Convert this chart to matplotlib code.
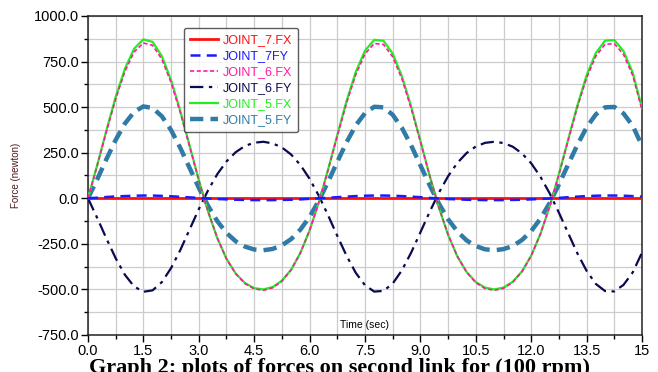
import matplotlib.pyplot as plt
from matplotlib.ticker import MultipleLocator

# time samples (sec) and forces (newton)
time_s = [0.0, 0.25, 0.5, 0.75, 1.0, 1.25, 1.5, 1.75, 2.0, 2.25, 2.5, 2.75,
          3.0, 3.25, 3.5, 3.75, 4.0, 4.25, 4.5, 4.75, 5.0, 5.25, 5.5, 5.75,
          6.0, 6.25, 6.5, 6.75, 7.0, 7.25, 7.5, 7.75, 8.0, 8.25, 8.5, 8.75,
          9.0, 9.25, 9.5, 9.75, 10.0, 10.25, 10.5, 10.75, 11.0, 11.25, 11.5, 11.75,
          12.0, 12.25, 12.5, 12.75, 13.0, 13.25, 13.5, 13.75, 14.0, 14.25, 14.5, 14.75,
          15.0]

joint7_fx = [0] * 61

joint7_fy = [0, 3, 7, 10, 12, 14, 15, 15, 13, 11, 8, 5,
             2, -1, -4, -6, -8, -9, -10, -10, -10, -9, -8, -6,
             -3, 0, 3, 6, 9, 12, 14, 15, 15, 14, 12, 9,
             6, 2, -1, -4, -6, -8, -9, -10, -10, -10, -9, -8,
             -6, -4, -1, 2, 6, 9, 12, 14, 15, 15, 14, 12,
             9]

joint6_fx = [0, 179, 366, 545, 696, 803, 852, 839, 763, 635, 470, 285,
             99, -72, -217, -332, -414, -468, -497, -505, -491, -455, -393, -300,
             -176, -22, 154, 341, 522, 678, 792, 849, 844, 776, 655, 493,
             310, 124, -50, -199, -318, -405, -463, -495, -505, -494, -461, -403,
             -315, -195, -44, 130, 317, 500, 660, 780, 845, 848, 789, 673,
             485]

joint6_fy = [0, -108, -221, -329, -420, -484, -513, -505, -460, -383, -284, -172,
             -60, 43, 132, 202, 253, 287, 305, 310, 301, 279, 240, 183,
             107, 14, -93, -206, -315, -409, -477, -512, -508, -468, -395, -298,
             -187, -75, 30, 121, 194, 248, 284, 304, 310, 303, 283, 246,
             192, 118, 27, -79, -191, -302, -398, -470, -509, -511, -475, -406,
             -298]

joint5_fx = [0, 182, 373, 556, 711, 821, 872, 858, 780, 648, 479, 290,
             101, -72, -218, -332, -413, -465, -493, -500, -487, -452, -392, -300,
             -177, -23, 157, 347, 533, 693, 810, 869, 864, 794, 669, 503,
             315, 125, -51, -201, -319, -404, -460, -490, -500, -490, -458, -401,
             -315, -196, -45, 132, 322, 509, 674, 797, 865, 868, 807, 688,
             495]

joint5_fy = [0, 104, 215, 320, 410, 474, 504, 495, 450, 374, 276, 167,
             58, -41, -125, -190, -236, -265, -281, -285, -278, -258, -224, -172,
             -102, -13, 90, 200, 307, 400, 467, 502, 499, 458, 386, 290,
             181, 72, -29, -115, -182, -231, -262, -280, -285, -279, -262, -229,
             -180, -112, -26, 76, 185, 293, 389, 460, 499, 501, 465, 397,
             288]

x_ticks = [0.0, 1.5, 3.0, 4.5, 6.0, 7.5, 9.0, 10.5, 12.0, 13.5, 15.0]
x_labels = ["0.0", "1.5", "3.0", "4.5", "6.0", "7.5", "9.0", "10.5", "12.0", "13.5", "15"]
y_ticks = [-750, -500, -250, 0, 250, 500, 750, 1000]

fig = plt.figure(figsize=(6.58, 3.72), dpi=100)
ax = fig.add_axes([0.1337, 0.0995, 0.842, 0.8575])

ax.plot(time_s, joint6_fy, color="#0a0a50", lw=1.6, dashes=(6, 2.5, 1.5, 2.5), label="JOINT_6.FY", zorder=3)
ax.plot(time_s, joint5_fy, color="#2f7ba6", lw=3.2, dashes=(3, 1.6), label="JOINT_5.FY", zorder=3)
ax.plot(time_s, joint5_fx, color="#22ee22", lw=1.6, label="JOINT_5.FX", zorder=4)
ax.plot(time_s, joint6_fx, color="#ff1aa0", lw=1.2, dashes=(2.5, 1.5), label="JOINT_6.FX", zorder=5)
ax.plot(time_s, joint7_fx, color="#ff1010", lw=2.0, label="JOINT_7.FX", zorder=5)
ax.plot(time_s, joint7_fy, color="#1a1aff", lw=1.8, dashes=(4, 2.5), label="JOINT_7FY", zorder=6)

ax.set_xlim(0, 15)
ax.set_ylim(-750, 1000)
ax.set_xticks(x_ticks)
ax.set_xticklabels(x_labels)
ax.set_yticks(y_ticks)
ax.set_yticklabels(["%.1f" % v for v in y_ticks])
ax.xaxis.set_minor_locator(MultipleLocator(0.75))
ax.yaxis.set_minor_locator(MultipleLocator(125))
ax.grid(True, which="both", color="#cccccc", lw=0.9)
ax.set_axisbelow(True)

font = "Liberation Sans"
for lab in ax.get_xticklabels() + ax.get_yticklabels():
    lab.set_fontfamily(font)
    lab.set_fontsize(10.5)
ax.tick_params(which="major", direction="out", length=5, width=1, pad=1.5)
ax.tick_params(which="minor", direction="out", length=3, width=1)
for sp in ax.spines.values():
    sp.set_color("#222222")
    sp.set_linewidth(1.1)

ax.set_ylabel("Force (newton)", fontsize=7, color="#4a1a1a", labelpad=9, family=font)
ax.text(7.5, -695, "Time (sec)", fontsize=7.5, ha="center", va="center", family=font)

handles, labels = ax.get_legend_handles_labels()
order = [4, 5, 3, 0, 2, 1]
leg = ax.legend([handles[i] for i in order], [labels[i] for i in order],
                loc="upper left", bbox_to_anchor=(0.162, 0.983),
                frameon=True, fancybox=True, handlelength=2.2, handletextpad=0.4,
                labelspacing=0.32, borderpad=0.5, prop={"family": font, "size": 9})
leg.get_frame().set_edgecolor("#333333")
leg.get_frame().set_linewidth(1.0)
for txt, h in zip(leg.get_texts(), leg.legend_handles):
    txt.set_color(h.get_color())

fig.text(0.135, 0.012, "Graph 2: plots of forces on second link for (100 rpm)",
         fontsize=16, family="Liberation Serif", weight="bold", ha="left", va="center")

fig.savefig("out.png", dpi=100)
